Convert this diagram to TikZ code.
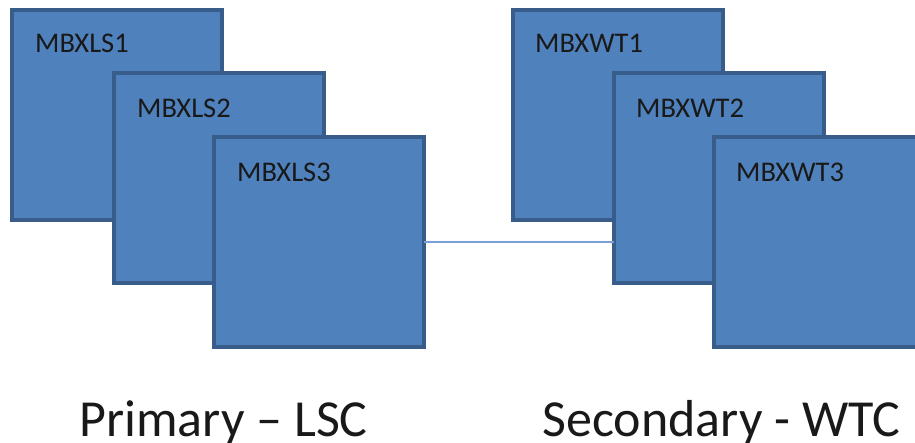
\documentclass[tikz,border=0pt]{standalone}
\usepackage{fontspec}
\setmainfont{Carlito}
\definecolor{boxfill}{HTML}{4F81BD}
\definecolor{boxline}{HTML}{385D8A}
\definecolor{linkline}{RGB}{120,160,215}
\begin{document}
\begin{tikzpicture}[x=1pt,y=-1pt,
  server/.style={draw=boxline, fill=boxfill, line width=4pt,
    minimum width=210pt, minimum height=210pt,
    inner sep=0pt, outer sep=0pt, anchor=north west},
  servername/.style={anchor=base west, inner sep=0pt,
    font=\fontsize{28.5}{34}\selectfont, text=black!90},
  sitename/.style={anchor=base, inner sep=0pt,
    font=\fontsize{52}{60}\selectfont, text=black!90},
  link/.style={draw=linkline, line width=1.6pt}]
\useasboundingbox (0,0) rectangle (915,443);
\clip (0,0) rectangle (915,443);

% primary site servers
\node[server] (ls1) at (12,10) {};
\node[servername] (ls1t) at ([xshift=23pt,yshift=-43pt]ls1.north west) {MBXLS1};
\node[server] (ls2) at (114,73) {};
\node[servername] (ls2t) at ([xshift=23pt,yshift=-45pt]ls2.north west) {MBXLS2};
\node[server] (ls3) at (214,137) {};
\node[servername] (ls3t) at ([xshift=23pt,yshift=-45pt]ls3.north west) {MBXLS3};

% secondary site servers
\node[server] (wt1) at (513,10) {};
\node[servername] (wt1t) at ([xshift=22pt,yshift=-43pt]wt1.north west) {MBXWT1};
\node[server] (wt2) at (614,73) {};
\node[servername] (wt2t) at ([xshift=22pt,yshift=-45pt]wt2.north west) {MBXWT2};
\node[server] (wt3) at (714,137) {};
\node[servername] (wt3t) at ([xshift=22pt,yshift=-45pt]wt3.north west) {MBXWT3};

% link between the sites
\draw[link] (ls3.east) -- (ls3.east -| wt2.west);

% site captions
\node[sitename] (primary) at (223.5,436) {Primary – LSC};
\node[sitename] (secondary) at (721.5,436) {Secondary - WTC};
\end{tikzpicture}
\end{document}
